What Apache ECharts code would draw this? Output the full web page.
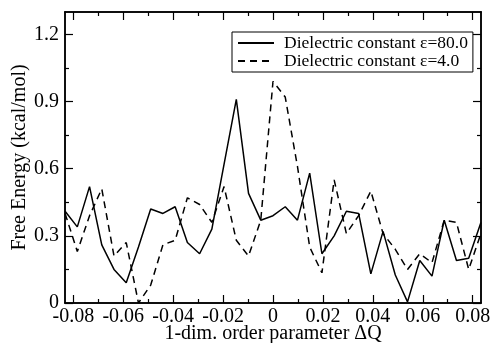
<!DOCTYPE html>
<html>
<head>
<meta charset="utf-8">
<script src="https://cdn.jsdelivr.net/npm/echarts@6/dist/echarts.min.js"></script>
<style>
  html, body { margin: 0; padding: 0; background: #fff; }
  #chart { width: 492px; height: 343px; }
</style>
</head>
<body>
<div id="chart"></div>
<script>
// order parameter values (35 points, -1/12 .. 1/12)
var dq = [-0.0833, -0.0784, -0.0735, -0.0686, -0.0637, -0.0588, -0.0539, -0.0490,
  -0.0441, -0.0392, -0.0343, -0.0294, -0.0245, -0.0196, -0.0147, -0.0098, -0.0049,
  0.0000, 0.0049, 0.0098, 0.0147, 0.0196, 0.0245, 0.0294, 0.0343, 0.0392, 0.0441,
  0.0490, 0.0539, 0.0588, 0.0637, 0.0686, 0.0735, 0.0784, 0.0833]
// eps = 80.0
var eps80 = [0.41, 0.34, 0.52, 0.26, 0.15, 0.09, 0.25, 0.42, 0.40, 0.43, 0.27, 0.22,
  0.33, 0.62, 0.91, 0.49, 0.37, 0.39, 0.43, 0.37, 0.58, 0.22, 0.30, 0.41, 0.40,
  0.13, 0.32, 0.125, 0.005, 0.19, 0.12, 0.37, 0.19, 0.20, 0.36]
// eps = 4.0
var eps4 = [0.40, 0.23, 0.39, 0.51, 0.21, 0.27, 0.00, 0.08, 0.26, 0.28, 0.47, 0.44,
  0.36, 0.52, 0.28, 0.21, 0.37, 0.99, 0.92, 0.61, 0.25, 0.135, 0.55, 0.31, 0.39,
  0.50, 0.31, 0.24, 0.15, 0.22, 0.18, 0.37, 0.36, 0.15, 0.31]

var xMajor = [-0.08, -0.06, -0.04, -0.02, 0, 0.02, 0.04, 0.06, 0.08]
var xMinor = [-0.07, -0.05, -0.03, -0.01, 0.01, 0.03, 0.05, 0.07]
var yMajor = [0, 0.3, 0.6, 0.9, 1.2]
var yMinor = [0.15, 0.45, 0.75, 1.05]

var font = 'Liberation Serif'
var black = '#000'

function xAxisDef(pos, ticks, len, labels) {
  return {
    type: 'value', position: pos, min: -1 / 12, max: 1 / 12,
    axisLine: { show: true, onZero: false, lineStyle: { color: black, width: 1.5 } },
    axisTick: { show: true, inside: true, length: len, customValues: ticks, lineStyle: { color: black, width: 1.2 } },
    axisLabel: labels ? {
      show: true, customValues: ticks, margin: 4, color: black, fontFamily: font, fontSize: 20,
      formatter: function (v) { return Math.abs(v) < 1e-9 ? '0' : v.toFixed(2) }
    } : { show: false },
    splitLine: { show: false }
  }
}
function yAxisDef(pos, ticks, len, labels) {
  return {
    type: 'value', position: pos, min: 0, max: 1.3,
    axisLine: { show: true, onZero: false, lineStyle: { color: black, width: 1.5 } },
    axisTick: { show: true, inside: true, length: len, customValues: ticks, lineStyle: { color: black, width: 1.2 } },
    axisLabel: labels ? {
      show: true, customValues: ticks, margin: 6, color: black, fontFamily: font, fontSize: 20,
      formatter: function (v) { return v === 0 ? '0' : v.toFixed(1) }
    } : { show: false },
    splitLine: { show: false }
  }
}

var xa = xAxisDef('bottom', xMajor, 8, true)
xa.name = '1-dim. order parameter \u0394Q'
xa.nameLocation = 'middle'
xa.nameGap = 21
xa.nameMoveOverlap = false
xa.nameTextStyle = { color: black, fontFamily: font, fontSize: 20 }
var ya = yAxisDef('left', yMajor, 8, true)
ya.name = 'Free Energy (kcal/mol)'
ya.nameLocation = 'middle'
ya.nameGap = 35
ya.nameMoveOverlap = false
ya.nameTextStyle = { color: black, fontFamily: font, fontSize: 20 }

var chart = echarts.init(document.getElementById('chart'))
chart.setOption({
  animation: false,
  backgroundColor: '#fff',
  grid: { left: 65, right: 11, top: 12, bottom: 40, outerBoundsMode: 'none', containLabel: false },
  legend: {
    left: 232, top: 32, orient: 'vertical',
    borderColor: black, borderWidth: 1, borderRadius: 0,
    padding: [2, 5, 2, 5],
    itemWidth: 36, itemHeight: 14, itemGap: 0,
    itemStyle: { color: 'transparent', borderWidth: 0, opacity: 0 },
    textStyle: { color: black, fontFamily: font, fontSize: 17.5, lineHeight: 17, padding: [0, 0, 0, 5] },
    data: ['Dielectric constant \u03b5=80.0', 'Dielectric constant \u03b5=4.0']
  },
  xAxis: [xa, xAxisDef('bottom', xMinor, 4, false), xAxisDef('top', xMajor, 8, false), xAxisDef('top', xMinor, 4, false)],
  yAxis: [ya, yAxisDef('left', yMinor, 4, false), yAxisDef('right', yMajor, 8, false), yAxisDef('right', yMinor, 4, false)],
  series: [
    {
      name: 'Dielectric constant \u03b5=80.0', type: 'line', symbol: 'none',
      xAxisIndex: 0, yAxisIndex: 0,
      data: dq.map(function (x, i) { return [x, eps80[i]] }),
      lineStyle: { color: black, width: 1.5 }, itemStyle: { color: black }
    },
    {
      name: 'Dielectric constant \u03b5=4.0', type: 'line', symbol: 'none',
      xAxisIndex: 0, yAxisIndex: 0,
      data: dq.map(function (x, i) { return [x, eps4[i]] }),
      lineStyle: { color: black, width: 1.5, type: [7, 5] }, itemStyle: { color: black }
    }
  ]
})
</script>
</body>
</html>
